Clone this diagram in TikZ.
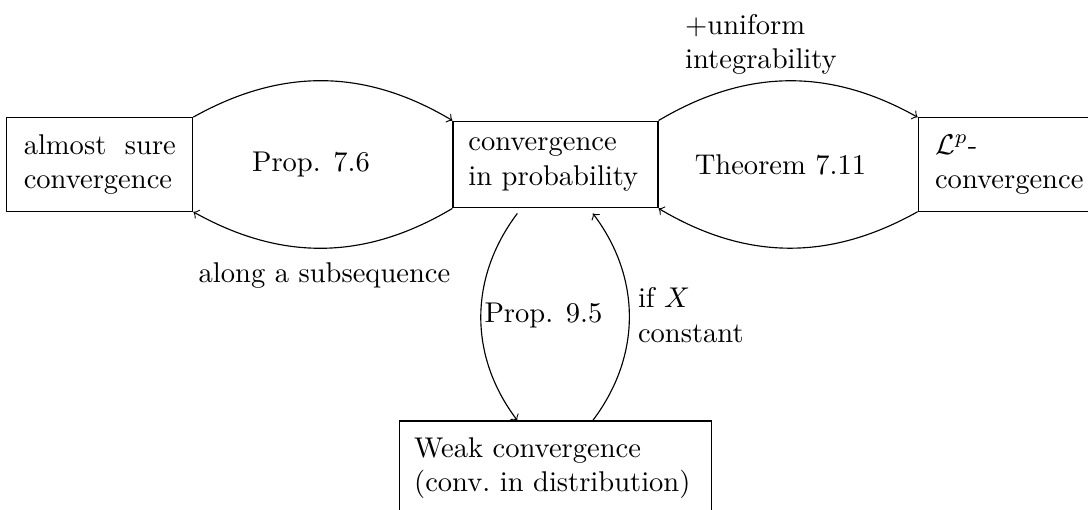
\documentclass[tikz,border=0pt]{standalone}
\usetikzlibrary{positioning}
\tikzset{conv/.style={draw, inner sep=5.9pt}}
\begin{document}
\begin{tikzpicture}
    \useasboundingbox (-6.839,-4.253) rectangle (6.556,2.025);
    % Modes of convergence
    \node[conv, text width=61pt, inner xsep=5.4pt] (prob) at (0,0) {convergence in probability};
    \node[conv, text width=53.3pt, align=justify, left=3.19cm of prob] (as) {almost sure convergence};
    \node[conv, text width=53.3pt, right=3.19cm of prob] (lp) {$\mathcal{L}^p$-\newline convergence};
    \node[conv, text width=99pt, inner xsep=5.15pt, below=2.61cm of prob] (weak) {Weak convergence\newline (conv.\ in distribution)};
    % Implications
    \draw[->] (as.north east) to[bend left=30] (prob.north west);
    \draw[->] (prob.south west) to[bend left=30] (as.south east);
    \draw[->] (prob.north east) to[bend left=30] (lp.north west);
    \draw[->] (lp.south west) to[bend left=30] (prob.south east);
    \draw[->] ([xshift=-0.47cm, yshift=-0.062cm]prob.south) to[bend right=37] ([xshift=-0.47cm]weak.north);
    \draw[->] ([xshift=0.46cm]weak.north) to[bend right=37] ([xshift=0.46cm, yshift=-0.062cm]prob.south);
    % Labels
    \node (prop76) at (-3.01,0) {Prop. 7.6};
    \node (subseq) at (-2.844,-1.373) {along a subsequence};
    \node (thm711) at (2.77,0) {Theorem 7.11};
    \node[align=left] (ui) at (2.53,1.483) {+uniform\\integrability};
    \node (prop95) at (-0.148,-1.865) {Prop. 9.5};
    \node[align=left] (const) at (1.666,-1.853) {if $X$\\constant};
\end{tikzpicture}
\end{document}
